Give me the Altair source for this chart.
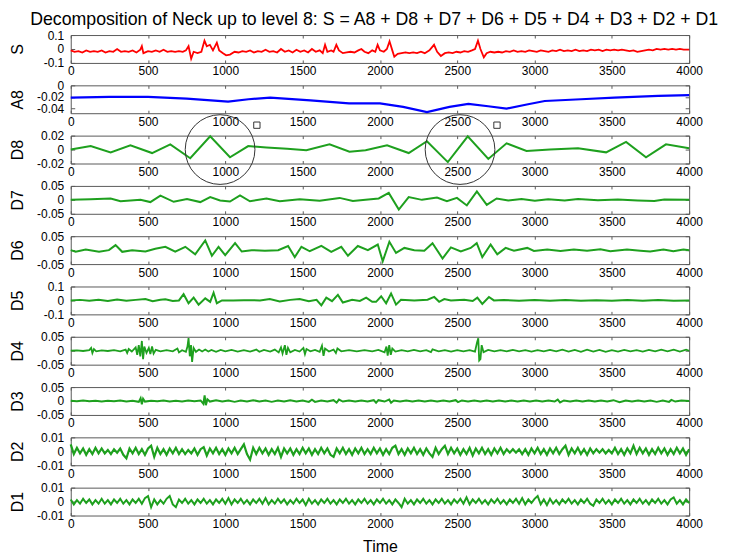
import altair as alt
import pandas as pd

TITLE = "Decomposition of Neck up to level 8: S = A8 + D8 + D7 + D6 + D5 + D4 + D3 + D2 + D1"
X_TICKS = [0, 500, 1000, 1500, 2000, 2500, 3000, 3500, 4000]

# ---- S (signal) ----
S_T = [0, 25, 50, 75, 100, 125, 150, 175, 200, 225,
       250, 275, 300, 325, 350, 375, 400, 425, 450, 460,
       470, 500, 525, 550, 575, 600, 625, 650, 675, 700,
       725, 745, 762, 779, 795, 820, 845, 865, 880, 900,
       920, 945, 960, 985, 1005, 1030, 1060, 1085, 1110, 1135,
       1160, 1185, 1210, 1235, 1260, 1285, 1310, 1335, 1360, 1385,
       1410, 1435, 1460, 1485, 1510, 1535, 1560, 1585, 1610, 1630,
       1645, 1660, 1685, 1700, 1718, 1735, 1760, 1785, 1810, 1835,
       1860, 1880, 1900, 1925, 1950, 1970, 1985, 2000, 2025, 2045,
       2062, 2080, 2093, 2115, 2140, 2165, 2190, 2215, 2240, 2265,
       2290, 2320, 2350, 2370, 2394, 2420, 2445, 2470, 2495, 2520,
       2545, 2570, 2595, 2615, 2634, 2650, 2672, 2690, 2715, 2740,
       2765, 2790, 2815, 2840, 2865, 2890, 2915, 2940, 2965, 2990,
       3015, 3040, 3065, 3090, 3115, 3140, 3165, 3190, 3215, 3240,
       3265, 3290, 3315, 3340, 3365, 3390, 3415, 3440, 3465, 3490,
       3515, 3540, 3565, 3590, 3615, 3640, 3665, 3690, 3715, 3740,
       3765, 3790, 3815, 3840, 3865, 3890, 3915, 3940, 3965, 4000]
S_V = [-0.01, -0.02, -0.015, -0.025, -0.01, -0.02, -0.015, -0.02, -0.01, -0.025,
       -0.015, -0.02, 0.0, -0.02, -0.015, -0.02, -0.01, -0.025, -0.005, 0.02,
       -0.03, -0.015, -0.02, -0.01, -0.02, -0.005, -0.02, -0.015, -0.02, -0.015,
       -0.02, -0.01, 0.02, -0.07, -0.02, -0.03, -0.02, 0.06, 0.02, 0.03,
       -0.01, 0.045, -0.01, -0.03, -0.045, -0.04, -0.02, -0.025, -0.015, -0.02,
       -0.01, -0.025, -0.015, -0.02, -0.005, -0.02, -0.015, -0.025, 0.0, -0.02,
       -0.01, -0.025, -0.005, -0.02, -0.01, -0.025, 0.0, -0.02, -0.01, -0.03,
       0.03, -0.02, -0.01, -0.02, 0.03, -0.01, -0.03, -0.025, -0.02, -0.025,
       -0.01, 0.0, -0.02, -0.03, -0.01, -0.02, 0.03, -0.01, -0.02, 0.0,
       0.055, -0.01, -0.055, -0.035, -0.03, -0.025, -0.03, -0.025, -0.03, -0.02,
       -0.03, -0.01, 0.03, -0.02, -0.05, -0.03, -0.025, -0.03, -0.02, -0.025,
       -0.015, -0.02, -0.01, 0.0, 0.06, 0.0, -0.06, -0.03, -0.02, -0.025,
       -0.02, -0.025, -0.015, -0.02, -0.01, -0.02, -0.015, -0.02, -0.01, -0.015,
       -0.02, -0.01, -0.015, -0.02, -0.01, -0.015, -0.005, -0.015, -0.01, -0.015,
       -0.005, -0.015, -0.01, -0.015, -0.005, -0.01, -0.005, -0.015, -0.005, -0.01,
       -0.005, -0.01, -0.005, -0.01, -0.015, -0.01, -0.02, -0.015, -0.01, -0.005,
       -0.01, 0.0, -0.005, 0.0, -0.005, 0.0, -0.005, 0.0, -0.005, -0.005]

# ---- A8 (approximation) ----
A8_T = [0, 250, 500, 750, 1018, 1150, 1290, 1550, 1800, 2000, 2150,
        2304, 2450, 2572, 2700, 2819, 2950, 3066, 3300, 3517, 3800, 4000]
A8_V = [-0.021, -0.02, -0.02, -0.023, -0.028, -0.024, -0.021, -0.026, -0.031, -0.031, -0.037,
        -0.046, -0.037, -0.032, -0.036, -0.04, -0.033, -0.027, -0.024, -0.021, -0.018, -0.017]

# ---- D8 ----
D8_T = [0, 129, 258, 386, 526, 644, 773, 902, 1030, 1148,
        1266, 1400, 1524, 1674, 1803, 1907, 2046, 2186, 2304, 2439,
        2568, 2701, 2819, 2948, 3100, 3281, 3463, 3592, 3721, 3850, 4000]
D8_V = [0, 0.005, -0.004, 0.006, -0.005, 0.0075, -0.0125, 0.019, -0.011, 0.005,
        0.003, 0.001, -0.001, 0.0075, -0.003, -0.001, 0.006, -0.005, 0.012, -0.018,
        0.019, -0.0135, 0.009, -0.002, 0.0, 0.002, -0.004, 0.011, -0.011, 0.0075, 0.002]
# annotation marks drawn on the D8 panel
CIRCLE_T = [966, 2518]
CIRCLE_V = [0.0, 0.0]
SQUARE_T = [1204, 2757]
SQUARE_V = [0.035, 0.035]

# ---- D7 ----
D7_T = [0, 129, 258, 322, 451, 515, 580, 666, 752, 838,
        902, 966, 1030, 1095, 1159, 1266, 1352, 1481, 1610, 1739,
        1825, 1907, 1992, 2057, 2122, 2186, 2272, 2369, 2433, 2498,
        2562, 2627, 2691, 2755, 2830, 2916, 3002, 3088, 3195, 3281,
        3410, 3539, 3667, 3775, 3839, 4000]
D7_V = [0, 0.002, 0.005, -0.005, 0, -0.008, 0.015, -0.007, 0.003, -0.008,
        0.01, -0.002, -0.006, 0.016, -0.005, 0.005, -0.005, 0.002, -0.003, 0.007,
        -0.004, 0, 0.005, 0.025, -0.035, 0.01, 0, 0.008, -0.005, 0.007,
        -0.02, 0.03, -0.018, 0.005, -0.002, 0.003, -0.003, 0.002, -0.002, 0.003,
        -0.001, 0.001, -0.002, -0.004, 0.001, 0]

# ---- D6 ----
D6_T = [0, 32, 97, 183, 247, 290, 333, 397, 483, 547,
        612, 676, 741, 805, 870, 913, 956, 999, 1063, 1106,
        1170, 1256, 1342, 1406, 1449, 1492, 1546, 1621, 1685, 1750,
        1793, 1857, 1922, 1986, 2018, 2061, 2104, 2158, 2222, 2287,
        2340, 2405, 2459, 2523, 2587, 2626, 2662, 2716, 2759, 2813,
        2867, 2953, 2996, 3082, 3168, 3254, 3340, 3426, 3490, 3598,
        3684, 3748, 3834, 3898, 3963, 4000]
D6_V = [0, -0.006, 0.002, -0.006, 0, 0.018, -0.006, 0, -0.005, 0.005,
        0.012, -0.005, 0.012, -0.015, 0.035, -0.02, 0.012, -0.018, 0.025, -0.005,
        0, -0.002, 0, 0.015, -0.025, 0.012, -0.004, 0.015, -0.006, 0.012,
        -0.02, 0.015, 0, 0.02, -0.04, 0.03, -0.01, 0.008, 0, -0.002,
        0.025, -0.03, 0.01, -0.005, 0.008, 0.025, -0.025, 0.02, -0.015, 0.008,
        -0.002, 0.008, -0.003, 0.002, -0.003, 0.002, -0.002, 0.003, -0.004, 0.002,
        -0.002, -0.005, 0.002, -0.004, 0.002, 0]

# ---- D5 ----
D5_T = [0, 60, 120, 180, 240, 300, 360, 420, 483, 530,
        580, 612, 660, 700, 730, 762, 795, 827, 870, 902,
        924, 945, 978, 1050, 1120, 1224, 1288, 1352, 1420, 1481,
        1540, 1590, 1621, 1653, 1690, 1728, 1760, 1820, 1870, 1911,
        1950, 1975, 2008, 2040, 2072, 2104, 2136, 2222, 2308, 2351,
        2383, 2416, 2459, 2545, 2600, 2630, 2662, 2705, 2737, 2800,
        2900, 3000, 3100, 3200, 3300, 3400, 3500, 3600, 3700, 3800,
        3900, 4000]
D5_V = [0, 0.004, -0.003, 0.005, -0.004, 0.006, -0.003, 0.004, 0.01, -0.005,
        0.005, 0.008, -0.004, 0, 0.045, -0.02, 0.02, -0.03, 0.015, -0.01,
        0.055, -0.02, 0, 0, 0.002, 0, 0.01, -0.008, 0.004, 0.01,
        -0.005, 0.004, -0.035, 0.02, -0.005, 0.04, -0.015, 0.004, -0.004, 0.02,
        -0.01, -0.01, 0.03, -0.02, 0.05, -0.03, 0.005, 0, 0.005, 0.025,
        -0.01, 0.01, 0, 0.005, -0.004, 0.02, -0.025, 0.025, 0, 0.003,
        -0.003, 0.003, -0.002, 0.003, -0.003, 0.002, -0.003, 0.003, -0.002, 0.003,
        -0.002, 0]

# ---- D4 ----
D4_T = [0, 40, 80, 120, 132, 140, 150, 165, 200, 240,
        280, 320, 355, 365, 375, 395, 420, 430, 440, 450,
        460, 468, 476, 490, 505, 515, 526, 536, 550, 580,
        620, 660, 690, 700, 720, 745, 755, 762, 770, 778,
        785, 795, 810, 830, 850, 870, 890, 910, 940, 970,
        1000, 1040, 1080, 1120, 1160, 1200, 1220, 1250, 1290, 1320,
        1345, 1360, 1370, 1385, 1395, 1405, 1420, 1450, 1480, 1505,
        1515, 1525, 1550, 1580, 1610, 1625, 1635, 1645, 1670, 1700,
        1715, 1725, 1750, 1800, 1850, 1900, 1950, 1990, 2030, 2042,
        2050, 2060, 2070, 2080, 2100, 2140, 2180, 2220, 2260, 2300,
        2330, 2340, 2380, 2420, 2460, 2500, 2540, 2580, 2615, 2628,
        2636, 2642, 2650, 2658, 2670, 2700, 2740, 2780, 2820, 2860,
        2900, 2940, 2980, 3020, 3060, 3100, 3140, 3180, 3220, 3260,
        3300, 3340, 3380, 3420, 3460, 3500, 3540, 3580, 3620, 3660,
        3700, 3740, 3780, 3820, 3860, 3900, 3940, 3980, 4000]
D4_V = [0, 0.001, -0.001, 0.002, 0.01, -0.008, 0.006, -0.002, 0.001, -0.001,
        0.002, -0.002, 0.004, -0.008, 0.006, -0.003, 0.012, -0.015, 0.02, -0.02,
        0.035, -0.03, 0.015, -0.008, 0.01, -0.012, 0.015, -0.01, 0.003, -0.002,
        0.002, -0.002, 0.008, -0.006, 0.002, -0.004, 0.015, 0.045, -0.02, 0.02,
        -0.04, 0.01, -0.004, 0.004, -0.003, 0.004, -0.003, 0.003, -0.004, 0.003,
        -0.002, 0.003, -0.003, 0.002, -0.003, 0.004, -0.004, 0.003, -0.003, 0.004,
        -0.006, 0.012, -0.01, 0.02, -0.015, 0.01, -0.006, 0.003, -0.003, 0.01,
        -0.012, 0.006, -0.002, 0.003, -0.004, 0.018, -0.018, 0.008, -0.003, 0.004,
        -0.008, 0.008, -0.002, 0.002, -0.002, 0.002, -0.002, 0.003, -0.006, 0.015,
        -0.018, 0.02, -0.015, 0.008, -0.003, 0.002, -0.002, 0.003, -0.002, 0.002,
        -0.005, 0.005, -0.002, 0.002, -0.003, 0.002, -0.002, 0.002, -0.003, 0.03,
        0.045, -0.035, -0.03, 0.02, -0.005, 0.003, -0.002, 0.002, -0.002, 0.003,
        -0.002, 0.002, -0.003, 0.002, -0.002, 0.003, -0.002, 0.004, -0.003, 0.003,
        -0.004, 0.004, -0.003, 0.003, -0.004, 0.002, -0.003, 0.003, -0.002, 0.002,
        -0.003, 0.003, -0.002, 0.004, -0.002, 0.004, -0.003, 0.004, 0]

# ---- D3 ----
D3_T = [0, 40, 80, 120, 160, 200, 240, 280, 320, 360,
        400, 440, 452, 460, 468, 480, 520, 560, 600, 640,
        680, 720, 760, 800, 840, 858, 866, 874, 884, 900,
        940, 980, 1020, 1060, 1100, 1140, 1180, 1220, 1260, 1300,
        1340, 1380, 1420, 1460, 1500, 1540, 1560, 1580, 1620, 1660,
        1700, 1720, 1735, 1760, 1800, 1840, 1880, 1920, 1960, 1975,
        1990, 2030, 2060, 2072, 2090, 2130, 2170, 2210, 2250, 2290,
        2330, 2370, 2410, 2450, 2490, 2505, 2530, 2570, 2610, 2650,
        2690, 2730, 2770, 2810, 2850, 2890, 2930, 2970, 3010, 3050,
        3090, 3130, 3150, 3165, 3190, 3230, 3270, 3310, 3350, 3390,
        3430, 3470, 3510, 3550, 3590, 3630, 3670, 3710, 3750, 3790,
        3830, 3870, 3885, 3910, 3950, 4000]
D3_V = [0.001, -0.001, 0.002, -0.001, 0.001, -0.002, 0.001, -0.001, 0.002, -0.002,
        0.001, -0.003, 0.01, -0.012, 0.008, -0.002, 0.001, -0.001, 0.002, -0.002,
        0.001, -0.002, 0.002, -0.001, 0.002, -0.01, 0.02, -0.015, 0.006, -0.002,
        0.003, -0.002, 0.002, -0.003, 0.002, -0.002, 0.003, -0.002, 0.002, -0.003,
        0.002, -0.002, 0.003, -0.002, 0.002, -0.003, 0.005, -0.003, 0.002, -0.002,
        0.003, -0.006, 0.005, -0.002, 0.002, -0.002, 0.002, -0.002, 0.003, -0.006,
        0.003, -0.002, 0.005, -0.006, 0.002, -0.002, 0.002, -0.002, 0.002, -0.002,
        0.002, -0.002, 0.002, -0.002, 0.003, -0.004, 0.002, -0.002, 0.002, -0.002,
        0.002, -0.002, 0.002, -0.002, 0.002, -0.002, 0.002, -0.002, 0.002, -0.002,
        0.002, -0.002, 0.005, -0.005, 0.002, -0.002, 0.002, -0.002, 0.002, -0.002,
        0.002, -0.002, 0.003, -0.004, 0.002, -0.002, 0.002, -0.002, 0.002, -0.003,
        0.002, -0.003, 0.004, -0.002, 0.002, 0]

# ---- D2 and D1: sampled every 20 time units, values in units of 1e-4 ----
DENSE_T = list(range(0, 4001, 20))
D2_E4 = [50, -20, 25, -15, 20, -25, 15, -20, 25, -15,
         20, -15, 10, -20, 15, -10, 20, -25, -50, 20,
         -15, 25, -20, 15, -25, 20, 40, -40, 25, -20,
         15, -25, 20, -15, 25, -20, 15, -20, 10, -15,
         20, -25, 15, 30, -30, 20, -15, 25, -20, 15,
         -25, 20, -15, 25, -20, 15, 50, -20, -60, 25,
         -20, 25, -15, 20, -25, 15, -20, 25, -40, 20,
         -15, 20, -25, 15, -20, 25, -15, 20, -25, 15,
         -20, 25, -15, 20, -25, -40, 20, -15, 25, -20,
         15, -25, 20, -15, 25, -20, 15, -20, 25, -15,
         20, -25, 15, -20, 25, 40, -20, 15, -25, 20,
         -15, 25, -20, 15, -25, 20, -15, -40, 25, -20,
         15, 40, -20, 25, -15, 20, -25, 15, -20, 25,
         -30, 20, -15, 25, -20, 15, -25, 20, -15, 25,
         -20, 15, -10, 15, -10, 15, -20, 15, -25, 20,
         -15, 25, -20, 15, -25, 20, -15, 25, -20, 15,
         40, -25, 20, -15, 25, -20, 15, -25, 20, -15,
         15, -10, 15, -15, 10, -15, 25, -20, 15, -25,
         20, -15, 40, -20, 25, -15, 20, -25, 15, -20,
         25, -15, 20, -25, 15, -20, 25, -15, 20, -25,
         15]
D1_E4 = [15, -20, 10, -15, 20, -10, 15, -20, 10, -15,
         20, -15, 10, -20, 15, -10, 20, -15, 10, -20,
         15, -10, 20, -15, 25, 40, -40, 15, -20, 10,
         -15, 20, 40, -20, -40, 15, -10, 20, -15, 10,
         -20, 15, -10, 20, -15, 10, -20, 15, -10, 20,
         -15, 25, -20, 15, -10, 20, -15, 10, -20, 15,
         -10, 20, -15, 25, -20, 10, -15, 20, -10, 15,
         -20, 10, -15, 20, -10, 15, -25, 20, -15, 10,
         -20, 15, -10, 20, -15, 10, -20, 15, -10, 20,
         -15, 10, -20, 15, -10, 20, -15, 10, -20, 15,
         -10, 20, -15, 10, -20, 15, -10, -40, 20, -15,
         10, -20, 15, -10, 20, -15, 10, -20, 15, -10,
         20, -15, 10, -20, 15, -10, 20, -15, 30, -20,
         15, -10, 20, -15, 10, -20, 15, -10, 20, -15,
         10, -20, 15, -10, 20, -15, 25, -20, 15, -10,
         20, 40, -20, 15, -25, 20, -15, 10, -20, 15,
         -10, 20, -15, 10, -20, 15, -10, 20, -15, -30,
         15, -10, 20, -15, 10, -20, 15, -10, 20, -15,
         10, -20, 15, -10, 20, -15, 10, -20, 15, -10,
         20, -15, 10, -20, 15, 30, -15, 10, -20, 15,
         -10]

FONT = "Liberation Sans"
W, H = 621, 28
RED, BLUE, GREEN = "#ff0000", "#0000ff", "#1ea01e"
FRAME = "#5a5a5a"


def x_enc(last):
    axis = alt.Axis(values=X_TICKS, labelExpr="'' + datum.value", grid=True,
                    gridDash=[3, 22], gridColor=FRAME, gridOpacity=1, gridWidth=1,
                    ticks=False, tickSize=0, domain=False, labelPadding=3,
                    labelFlush=False, labelOverlap=False, labelFont=FONT,
                    labelFontSize=12, labelColor="black", titleFont=FONT,
                    titleFontSize=16, titleFontWeight="normal", titleColor="black",
                    titlePadding=9)
    scale = alt.Scale(domain=[0, 4000], nice=False, zero=False)
    if last:
        return alt.X("t:Q", scale=scale, axis=axis, title="Time")
    return alt.X("t:Q", scale=scale, axis=axis, title=None)


def y_enc(name, domain, ticks):
    axis = alt.Axis(values=ticks, labelExpr="'' + datum.value", grid=True,
                    gridDash=[4, 613], gridColor=FRAME, gridOpacity=1, gridWidth=1,
                    ticks=False, tickSize=0, domain=False, labelPadding=7,
                    labelFlush=False, labelOverlap=False, labelFont=FONT,
                    labelFontSize=12, labelColor="black", titleFont=FONT,
                    titleFontSize=16, titleFontWeight="normal", titleColor="black",
                    titleAngle=270, titleX=-53, titleY=H / 2, titleAlign="center",
                    titleBaseline="middle")
    return alt.Y("v:Q", scale=alt.Scale(domain=domain, nice=False, zero=False),
                 axis=axis, title=name)


def panel(name, t, v, color, domain, ticks, width=1.8, last=False):
    df = pd.DataFrame({"t": t, "v": v})
    return alt.Chart(df).mark_line(color=color, strokeWidth=width).encode(
        x=x_enc(last), y=y_enc(name, domain, ticks))


d8_line = panel("D8", D8_T, D8_V, GREEN, [-0.02, 0.02], [-0.02, 0, 0.02], 2)
d8_circ = alt.Chart(pd.DataFrame({"t": CIRCLE_T, "v": CIRCLE_V})).mark_point(
    shape="circle", filled=False, size=4900, stroke="#333333", strokeWidth=1, opacity=1
).encode(x=x_enc(False), y=y_enc("D8", [-0.02, 0.02], [-0.02, 0, 0.02]))
d8_sq = alt.Chart(pd.DataFrame({"t": SQUARE_T, "v": SQUARE_V})).mark_point(
    shape="square", filled=False, size=40, stroke="#333333", strokeWidth=1, opacity=1
).encode(x=x_enc(False), y=y_enc("D8", [-0.02, 0.02], [-0.02, 0, 0.02]))

panels = [
    panel("S", S_T, S_V, RED, [-0.1, 0.1], [-0.1, 0, 0.1], 1.8),
    panel("A8", A8_T, A8_V, BLUE, [-0.048, 0], [-0.04, -0.02, 0], 2.2),
    alt.layer(d8_line, d8_circ, d8_sq),
    panel("D7", D7_T, D7_V, GREEN, [-0.05, 0.05], [-0.05, 0, 0.05], 2),
    panel("D6", D6_T, D6_V, GREEN, [-0.05, 0.05], [-0.05, 0, 0.05], 2),
    panel("D5", D5_T, D5_V, GREEN, [-0.1, 0.1], [-0.1, 0, 0.1], 2),
    panel("D4", D4_T, D4_V, GREEN, [-0.05, 0.05], [-0.05, 0, 0.05], 1.8),
    panel("D3", D3_T, D3_V, GREEN, [-0.05, 0.05], [-0.05, 0, 0.05], 2),
    panel("D2", DENSE_T, [x * 1e-4 for x in D2_E4], GREEN, [-0.01, 0.01], [-0.01, 0, 0.01], 2.2),
    panel("D1", DENSE_T, [x * 1e-4 for x in D1_E4], GREEN, [-0.01, 0.01], [-0.01, 0, 0.01], 2.0, last=True),
]
panels = [p.properties(width=W, height=H) for p in panels]

chart = alt.vconcat(*panels, spacing=22.5, bounds="flush").properties(
    title=alt.TitleParams(TITLE, font=FONT, fontSize=17.8, fontWeight="normal",
                          color="black", anchor="middle", offset=-0.5, dx=18),
    padding={"left": 1, "top": 2, "right": 5, "bottom": 5},
    background="white",
).configure_view(stroke=FRAME, strokeWidth=1)

chart.save("out.html", embed_options={"renderer": "svg", "actions": False})
